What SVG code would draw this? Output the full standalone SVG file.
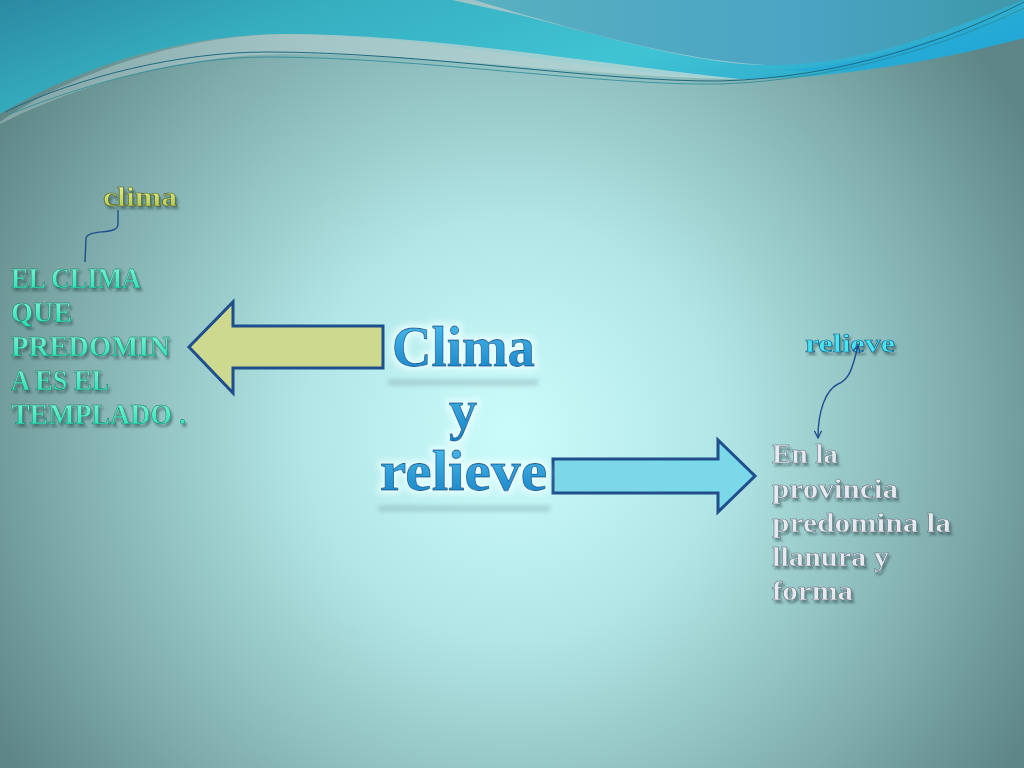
<svg xmlns="http://www.w3.org/2000/svg" width="1024" height="768" viewBox="0 0 1024 768">
  <defs>
    <radialGradient id="bg" cx="512" cy="430" r="600" gradientUnits="userSpaceOnUse">
      <stop offset="0" stop-color="#cbfcfc"/>
      <stop offset="0.35" stop-color="#b2e6e6"/>
      <stop offset="0.7" stop-color="#86b4b4"/>
      <stop offset="1" stop-color="#5e8686"/>
    </radialGradient>
    <linearGradient id="topG" x1="0" y1="0" x2="1" y2="0.3">
      <stop offset="0" stop-color="#2b8aa2"/>
      <stop offset="0.3" stop-color="#36aec0"/>
      <stop offset="0.7" stop-color="#40c4d4"/>
      <stop offset="1" stop-color="#2aa6cc"/>
    </linearGradient>
    <linearGradient id="topR" x1="0" y1="0" x2="1" y2="0">
      <stop offset="0" stop-color="#58b0c0"/>
      <stop offset="0.6" stop-color="#4aa4c4"/>
      <stop offset="1" stop-color="#3e98a8"/>
    </linearGradient>
    <linearGradient id="band" x1="0" y1="0" x2="1" y2="0">
      <stop offset="0" stop-color="#8aaaaa"/>
      <stop offset="0.4" stop-color="#a8c8c8"/>
      <stop offset="1" stop-color="#b8d8d8"/>
    </linearGradient>
    <linearGradient id="leftTxt" x1="0" y1="0" x2="0" y2="1">
      <stop offset="0" stop-color="#8af8dc"/>
      <stop offset="1" stop-color="#22dcb0"/>
    </linearGradient>
    <linearGradient id="climaTxt" x1="0" y1="0" x2="0" y2="1">
      <stop offset="0" stop-color="#f4f8a0"/>
      <stop offset="1" stop-color="#a8c040"/>
    </linearGradient>
    <linearGradient id="blueTxt" x1="0" y1="0" x2="0" y2="1">
      <stop offset="0" stop-color="#4cc0f0"/>
      <stop offset="1" stop-color="#1680c4"/>
    </linearGradient>
    <filter id="glow" x="-20%" y="-30%" width="140%" height="160%">
      <feMorphology in="SourceAlpha" operator="dilate" radius="3" result="d"/>
      <feGaussianBlur in="d" stdDeviation="3" result="b"/>
      <feFlood flood-color="#e8ffff" flood-opacity="0.9"/>
      <feComposite in2="b" operator="in" result="g"/>
      <feMerge><feMergeNode in="g"/><feMergeNode in="SourceGraphic"/></feMerge>
    </filter>
    <filter id="shadow" x="-10%" y="-20%" width="120%" height="150%">
      <feGaussianBlur in="SourceAlpha" stdDeviation="1.2" result="b"/>
      <feOffset in="b" dx="2" dy="3" result="o"/>
      <feFlood flood-color="#203838" flood-opacity="0.45"/>
      <feComposite in2="o" operator="in" result="s"/>
      <feMerge><feMergeNode in="s"/><feMergeNode in="SourceGraphic"/></feMerge>
    </filter>
    <filter id="blur4" x="-20%" y="-200%" width="140%" height="500%">
      <feGaussianBlur stdDeviation="2.5"/>
    </filter>
    <marker id="chev" viewBox="0 0 10 10" refX="9" refY="5" markerWidth="9" markerHeight="9" orient="auto-start-reverse" markerUnits="userSpaceOnUse">
      <path d="M1,1 L9,5 L1,9" fill="none" stroke="#1f4e8c" stroke-width="1.4"/>
    </marker>
    <style>
      .arrowShape { stroke: #1f4e8c; stroke-width: 3; stroke-linejoin: miter; }
      .left { font-family: "Liberation Serif", serif; font-weight: bold; font-size: 30px; fill: url(#leftTxt); stroke: #1a6a56; stroke-width: 0.4; }
      .gray { font-family: "Liberation Serif", serif; font-weight: bold; font-size: 28px; fill: #e6eaee; stroke: #5a6878; stroke-width: 0.5; }
      .center { font-family: "Liberation Serif", serif; font-weight: bold; font-size: 56px; fill: url(#blueTxt); stroke: #0e5a90; stroke-width: 0.8; }
      .conn { fill: none; stroke: #1f4e8c; stroke-width: 1.4; }
    </style>
  </defs>

  <!-- background -->
  <rect x="0" y="0" width="1024" height="768" fill="url(#bg)"/>

  <!-- top waves -->
  <path d="M0,0 H1024 V38 C930,62 830,80 740,79 C600,76 450,36 283,34 C160,35 60,78 0,114 Z" fill="url(#topG)"/>
  <path d="M0,122 C60,80 170,36 283,34 C430,34 580,62 740,79 C600,78 440,54 283,54 C160,56 60,94 0,124 Z" fill="url(#band)" opacity="0.85"/>
  <path d="M470,0 C560,25 680,62 770,65 C860,66 950,30 1024,0 Z" fill="url(#topR)"/>
  <path d="M452,0 L474,0 C560,25 680,62 770,65 C700,66 600,35 520,15 Z" fill="#a8c6c6" opacity="0.9"/>
  <path d="M780,70 C870,66 960,30 1024,12 V38 C930,62 860,76 780,70 Z" fill="#22a8d8" opacity="0.7"/>
  <path d="M5,112 C80,76 180,52 267,52 C420,52 600,82 720,81 C840,78 950,40 1024,2" fill="none" stroke="#1e6a80" stroke-width="1"/>
  <path d="M10,114 C90,82 185,57 267,57 C420,57 600,86 720,84 C840,80 950,44 1024,8" fill="none" stroke="#2a8a98" stroke-width="0.8"/>

  <!-- left arrow -->
  <g id="arrow-left">
    <polygon class="arrowShape" points="383,326 233,326 233,302 189,347 233,393 233,368 383,368" fill="#cdd98e"/>
  </g>

  <!-- right arrow -->
  <g id="arrow-right">
    <polygon class="arrowShape" points="553,459 718,459 718,440 755,476 718,512 718,493 553,493" fill="#7ad8e8"/>
  </g>

  <!-- central node -->
  <g id="node-center">
    <rect x="388" y="380" width="150" height="5" fill="#7a9aa0" opacity="0.45" filter="url(#blur4)"/>
    <rect x="378" y="506" width="172" height="5" fill="#7a9aa0" opacity="0.45" filter="url(#blur4)"/>
    <g filter="url(#glow)">
      <text class="center" x="392" y="366" textLength="143" lengthAdjust="spacingAndGlyphs">Clima</text>
      <text class="center" x="463" y="429" text-anchor="middle">y</text>
      <text class="center" x="380" y="490" textLength="167" lengthAdjust="spacingAndGlyphs">relieve</text>
    </g>
  </g>

  <!-- clima label -->
  <g id="node-clima" filter="url(#shadow)">
    <text x="103" y="206" font-family="Liberation Serif, serif" font-weight="bold" font-size="28" fill="url(#climaTxt)" stroke="#4a5a20" stroke-width="0.6" textLength="74" lengthAdjust="spacingAndGlyphs">clima</text>
  </g>

  <!-- left text -->
  <g id="node-clima-text" filter="url(#shadow)">
    <text class="left" x="11" y="288" textLength="130" lengthAdjust="spacingAndGlyphs">EL CLIMA</text>
    <text class="left" x="11" y="322" textLength="61" lengthAdjust="spacingAndGlyphs">QUE</text>
    <text class="left" x="11" y="356" textLength="159" lengthAdjust="spacingAndGlyphs">PREDOMIN</text>
    <text class="left" x="11" y="390" textLength="98" lengthAdjust="spacingAndGlyphs">A ES EL</text>
    <text class="left" x="11" y="424" textLength="175" lengthAdjust="spacingAndGlyphs">TEMPLADO .</text>
  </g>

  <!-- relieve label -->
  <g id="node-relieve" filter="url(#shadow)">
    <text x="805" y="352" font-family="Liberation Serif, serif" font-weight="bold" font-size="26" fill="#44e6f0" stroke="#1a5a8a" stroke-width="0.6" textLength="90" lengthAdjust="spacingAndGlyphs">relieve</text>
  </g>

  <!-- right text -->
  <g id="node-relieve-text" filter="url(#shadow)">
    <text class="gray" x="772" y="463" textLength="66" lengthAdjust="spacingAndGlyphs">En la</text>
    <text class="gray" x="772" y="498" textLength="126" lengthAdjust="spacingAndGlyphs">provincia</text>
    <text class="gray" x="772" y="532" textLength="179" lengthAdjust="spacingAndGlyphs">predomina la</text>
    <text class="gray" x="772" y="566" textLength="117" lengthAdjust="spacingAndGlyphs">llanura y</text>
    <text class="gray" x="772" y="600" textLength="81" lengthAdjust="spacingAndGlyphs">forma</text>
  </g>

  <!-- connectors (on top so arrowheads stay visible) -->
  <g id="connectors">
    <path class="conn" d="M118,210 L118,224 C118,236 90,228 86,238 L85,262"/>
    <path class="conn" d="M858,345 C852,372 848,380 838,384 C826,390 818,410 818,438" marker-start="url(#chev)" marker-end="url(#chev)"/>
  </g>
</svg>
